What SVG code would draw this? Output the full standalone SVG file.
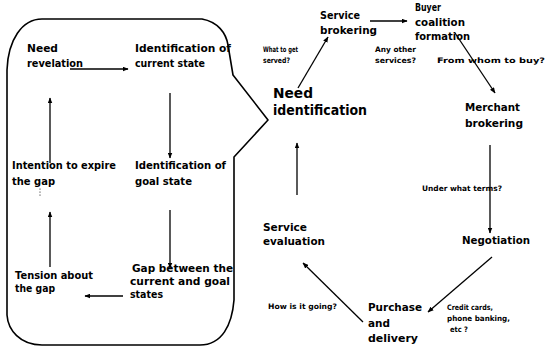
<svg xmlns="http://www.w3.org/2000/svg" width="547" height="349" viewBox="0 0 547 349">
  <style>
    text { font-family: "DejaVu Sans", "Liberation Sans", sans-serif; font-weight: bold; fill: #000; }
    .t { font-size: 10.5px; }
    .n { font-size: 11px; }
    .s { font-size: 7.5px; }
    .big { font-size: 14px; }
    .edge { fill: none; stroke: #000; stroke-width: 1.3; marker-end: url(#head); }
    .outline { fill: none; stroke: #000; stroke-width: 1.6; stroke-linejoin: round; }
  </style>
  <defs>
    <marker id="head" viewBox="0 0 10 8" refX="9" refY="4" markerWidth="6" markerHeight="5" markerUnits="userSpaceOnUse" orient="auto">
      <path d="M0,0 L10,4 L0,8 z" fill="#000"/>
    </marker>
  </defs>
  <rect width="547" height="349" fill="#fff"/>

  <!-- speech-bubble panel pointing at "Need identification" -->
  <g id="bubble">
    <path class="outline" d="M42,19 L202,19 C218,22 226,33 228,45 L233,75 L268,120 L234,157 L234,300 C232,325 222,345 200,345 L42,345 C20,345 8,330 7,315 L7,70 C8,40 22,19 42,19 Z"/>
    <circle cx="40" cy="189" r="0.6" fill="#000"/>
    <circle cx="40" cy="192" r="0.6" fill="#000"/>
    <circle cx="40" cy="195" r="0.6" fill="#000"/>
  </g>

  <!-- inner cycle -->
  <g id="need-revelation">
    <text class="t" x="27" y="52" textLength="31" lengthAdjust="spacingAndGlyphs">Need</text>
    <text class="t" x="27" y="67" textLength="56" lengthAdjust="spacingAndGlyphs">revelation</text>
  </g>
  <g id="current-state">
    <text class="t" x="135" y="52" textLength="96" lengthAdjust="spacingAndGlyphs">Identification of</text>
    <text class="t" x="135" y="67" textLength="70" lengthAdjust="spacingAndGlyphs">current state</text>
  </g>
  <g id="goal-state">
    <text class="t" x="135" y="169" textLength="91" lengthAdjust="spacingAndGlyphs">Identification of</text>
    <text class="t" x="135" y="185" textLength="57" lengthAdjust="spacingAndGlyphs">goal state</text>
  </g>
  <g id="gap">
    <text class="t" x="132" y="272" textLength="101" lengthAdjust="spacingAndGlyphs">Gap between the</text>
    <text class="t" x="130" y="285" textLength="100" lengthAdjust="spacingAndGlyphs">current and goal</text>
    <text class="t" x="130" y="298" textLength="33" lengthAdjust="spacingAndGlyphs">states</text>
  </g>
  <g id="tension">
    <text class="t" x="15" y="279" textLength="78" lengthAdjust="spacingAndGlyphs">Tension about</text>
    <text class="t" x="15" y="292" textLength="40" lengthAdjust="spacingAndGlyphs">the gap</text>
  </g>
  <g id="intention">
    <text class="t" x="12" y="169" textLength="104" lengthAdjust="spacingAndGlyphs">Intention to expire</text>
    <text class="t" x="12" y="185" textLength="43" lengthAdjust="spacingAndGlyphs">the gap</text>
  </g>

  <!-- outer buying cycle -->
  <g id="need-identification">
    <text class="big" x="273" y="98" textLength="40" lengthAdjust="spacingAndGlyphs">Need</text>
    <text class="big" x="273" y="115" textLength="94" lengthAdjust="spacingAndGlyphs">identification</text>
  </g>
  <g id="service-brokering">
    <text class="n" x="320" y="19" textLength="40" lengthAdjust="spacingAndGlyphs">Service</text>
    <text class="n" x="320" y="34" textLength="57" lengthAdjust="spacingAndGlyphs">brokering</text>
  </g>
  <g id="buyer-coalition">
    <text class="n" x="415" y="11" textLength="26" lengthAdjust="spacingAndGlyphs">Buyer</text>
    <text class="n" x="415" y="26" textLength="50" lengthAdjust="spacingAndGlyphs">coalition</text>
    <text class="n" x="415" y="40" textLength="55" lengthAdjust="spacingAndGlyphs">formation</text>
  </g>
  <g id="merchant-brokering">
    <text class="n" x="465" y="111" textLength="55" lengthAdjust="spacingAndGlyphs">Merchant</text>
    <text class="n" x="465" y="127" textLength="58" lengthAdjust="spacingAndGlyphs">brokering</text>
  </g>
  <g id="negotiation">
    <text class="n" x="462" y="244" textLength="68" lengthAdjust="spacingAndGlyphs">Negotiation</text>
  </g>
  <g id="purchase-delivery">
    <text class="n" x="368" y="311" textLength="54" lengthAdjust="spacingAndGlyphs">Purchase</text>
    <text class="n" x="368" y="327" textLength="22" lengthAdjust="spacingAndGlyphs">and</text>
    <text class="n" x="368" y="342" textLength="50" lengthAdjust="spacingAndGlyphs">delivery</text>
  </g>
  <g id="service-evaluation">
    <text class="n" x="263" y="231" textLength="44" lengthAdjust="spacingAndGlyphs">Service</text>
    <text class="n" x="263" y="245" textLength="62" lengthAdjust="spacingAndGlyphs">evaluation</text>
  </g>

  <!-- question labels -->
  <g id="labels">
    <text class="s" x="263" y="52" textLength="35" lengthAdjust="spacingAndGlyphs">What to get</text>
    <text class="s" x="263" y="63" textLength="27" lengthAdjust="spacingAndGlyphs">served?</text>
    <text class="s" x="375" y="52" textLength="41" lengthAdjust="spacingAndGlyphs">Any other</text>
    <text class="s" x="375" y="63" textLength="41" lengthAdjust="spacingAndGlyphs">services?</text>
    <text class="s" x="437" y="63" textLength="108" lengthAdjust="spacingAndGlyphs">From whom to buy?</text>
    <text class="s" x="422" y="191" textLength="80" lengthAdjust="spacingAndGlyphs">Under what terms?</text>
    <text class="s" x="447" y="310" textLength="46" lengthAdjust="spacingAndGlyphs">Credit cards,</text>
    <text class="s" x="447" y="321" textLength="63" lengthAdjust="spacingAndGlyphs">phone banking,</text>
    <text class="s" x="450" y="332" textLength="18" lengthAdjust="spacingAndGlyphs">etc ?</text>
    <text class="s" x="268" y="309" textLength="69" lengthAdjust="spacingAndGlyphs">How is it going?</text>
  </g>

  <!-- connectors -->
  <g id="connectors">
    <line class="edge" x1="70" y1="69" x2="128" y2="69"/>
    <line class="edge" x1="170" y1="93" x2="170" y2="158"/>
    <line class="edge" x1="170" y1="210" x2="170" y2="268"/>
    <line class="edge" x1="123" y1="296" x2="85" y2="296"/>
    <line class="edge" x1="50" y1="267" x2="50" y2="212"/>
    <line class="edge" x1="50" y1="163" x2="50" y2="98"/>
    <line class="edge" x1="298" y1="88" x2="328" y2="37"/>
    <line class="edge" x1="370" y1="21" x2="407" y2="21"/>
    <line class="edge" x1="455" y1="33" x2="495" y2="93"/>
    <line class="edge" x1="490" y1="145" x2="490" y2="233"/>
    <line class="edge" x1="492" y1="257" x2="428" y2="312"/>
    <line class="edge" x1="363" y1="322" x2="303" y2="263"/>
    <line class="edge" x1="297" y1="195" x2="297" y2="143"/>
  </g>
</svg>
